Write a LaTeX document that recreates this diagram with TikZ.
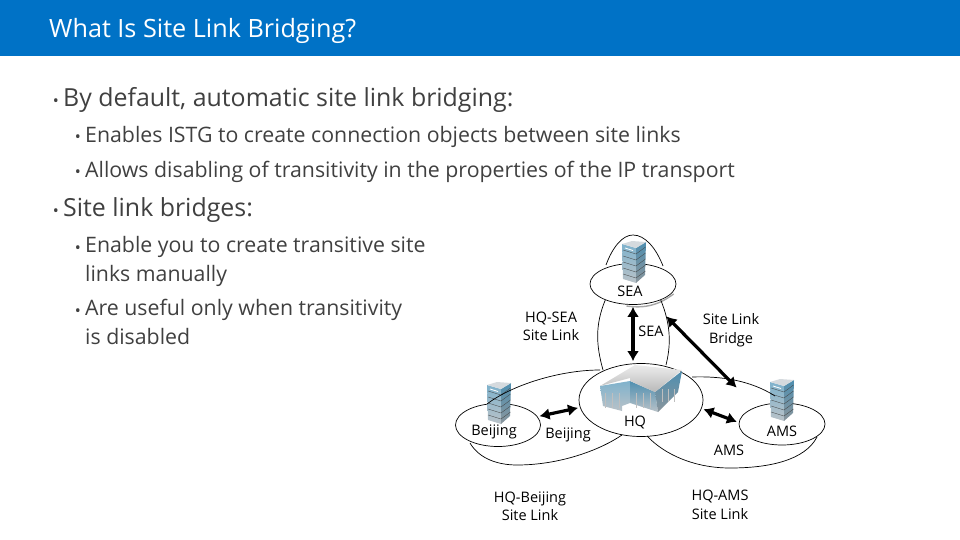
\documentclass[tikz,border=0pt]{standalone}
\usepackage{fontspec}
\setmainfont{Open Sans}
\usetikzlibrary{shapes.geometric, arrows.meta}

\definecolor{headblue}{HTML}{0072C6}
\definecolor{bodygray}{HTML}{404040}
\definecolor{glass}{HTML}{7FB2CC}
\definecolor{glassdark}{HTML}{4F8FB0}
\definecolor{concrete}{HTML}{B9C2C8}
\definecolor{concretedark}{HTML}{8A959C}

\tikzset{
  site/.style={draw, ellipse, line width=0.7pt, inner sep=0pt},
  sitelink/.style={line width=0.7pt},
  linkarrow/.style={{Latex[length=10pt,width=12pt]}-{Latex[length=10pt,width=12pt]}, line width=3.2pt, shorten >=2pt, shorten <=2pt},
  lbl/.style={font=\fontsize{14.5}{18.5}\selectfont, black, align=center, inner sep=0pt},
  main/.style={anchor=base west, inner sep=0pt, bodygray, font=\fontsize{24.9}{28}\selectfont},
  sub/.style={anchor=base west, inner sep=0pt, bodygray, align=left, font=\fontsize{21.3}{28.7}\selectfont},
  dot/.style={anchor=base east, inner sep=0pt, bodygray, font=\fontsize{16}{16}\selectfont},
  pics/tower/.style={code={
    \shade[top color=glass, bottom color=concrete] (0,2) -- (14,6) -- (14,41) -- (1,37) -- cycle;
    \shade[top color=glassdark, bottom color=concretedark] (14,6) -- (24,0) -- (23,33) -- (14,41) -- cycle;
    \fill[concrete!60] (0,2) -- (10,-1) -- (24,0) -- (14,6) -- cycle;
    \foreach \f in {12,18,...,36}
      {
      \draw[gray!50!black, line width=0.3pt] (1,\f-4) -- (14,\f) -- (23.5,\f-7);
      };
    \draw[white, line width=0.8pt] (3,6) -- (11,8.5);
  }}
}

\begin{document}
\begin{tikzpicture}[x=1pt, y=-1pt]
\useasboundingbox (0,0) rectangle (960,540);

% header
\fill[headblue] (0,0) rectangle (960,56);
\node[anchor=base west, inner sep=0pt, white, font=\fontsize{25.2}{30}\selectfont] (title) at (49,38) {What Is Site Link Bridging?};

% bullets
\node[dot] at (59,107) {•};
\node[main] (byDefault) at (63,107) {By default, automatic site link bridging:};
\node[dot] at (81,143) {•};
\node[sub] (enables) at (85,143) {Enables ISTG to create connection objects between site links};
\node[dot] at (81,178) {•};
\node[sub] (allows) at (85,178) {Allows disabling of transitivity in the properties of the IP transport};
\node[dot] at (59,216) {•};
\node[main] (bridges) at (63,216) {Site link bridges:};
\node[dot] at (81,253) {•};
\node[sub] (enable) at (85,281.5) {Enable you to create transitive site\\links manually};
\node[dot] at (81,316) {•};
\node[sub] (useful) at (85,344.5) {Are useful only when transitivity\\is disabled};

% sites
\node[site, minimum width=86pt, minimum height=41pt] (seasite) at (633,284) {};
\node[site, minimum width=124pt, minimum height=73pt] (hqsite) at (641,400) {};
\node[site, minimum width=85pt, minimum height=43pt] (bjsite) at (498,425) {};
\node[site, minimum width=86pt, minimum height=42pt] (amssite) at (782,424) {};

\draw[gray!70, line width=1.4pt] ([shift={(1,1.5)}]seasite.-110) to[bend right=22] ([shift={(1,1.5)}]seasite.-12);

% buildings
\pic at (622,242) {tower};
\pic at (487,383) {tower};
\pic at (770,380) {tower};

% HQ
\shade[top color=glass, bottom color=concrete] (600,386) -- (630,381) -- (630,403) -- (622,406) -- (622,411) -- (603,406) -- cycle;
\shade[top color=glassdark, bottom color=concrete] (630,381) -- (655,392) -- (658,412) -- (630,403) -- cycle;
\shade[top color=glassdark, bottom color=concretedark] (655,392) -- (682,371) -- (678,392) -- (658,412) -- cycle;
\shade[top color=gray!15, bottom color=gray!55] (600,386) -- (635,365) -- (682,370) -- (655,392) -- (630,381) -- (630,378) -- cycle;
\foreach \g in {605,612,619,636,643,650}
   {
	\draw[gray!50, line width=0.5pt] (\g,393) -- (\g,408);
   };
\foreach \g in {662,668,674}
   {
	\draw[gray!50, line width=0.5pt] (\g,389) -- (\g,402);
   };

% site links
\draw[sitelink] (606,265) .. controls (613,246) and (623,235) .. (633,235) .. controls (645,235) and (656,248) .. (663,266);
\draw[sitelink] (seasite.-150) .. controls (595,325) and (596,345) .. (603,370);
\draw[sitelink] (seasite.-30) .. controls (671,325) and (671,345) .. (666,365);
\draw[sitelink] (487,404) .. controls (512,385) and (560,370) .. (600,370);
\draw[sitelink] (470,443) .. controls (480,460) and (500,465) .. (517,465) .. controls (560,465) and (600,450) .. (622,435);
\draw[sitelink] (692,377) .. controls (720,376) and (750,380) .. (775,396);
\draw[sitelink] (647,436) .. controls (665,455) and (695,468) .. (730,468) .. controls (770,468) and (805,460) .. (817,437);

% site labels
\node[lbl] (sealbl) at (630,291) {SEA};
\node[lbl] (hqlbl) at (635,422) {HQ};
\node[lbl] (bjlbl) at (494,432) {Beijing};
\node[lbl] (amslbl) at (782,431) {AMS};

% inner labels
\node[lbl] (seainner) at (651,331) {SEA};
\node[lbl] (bjinner) at (568,435) {Beijing};
\node[lbl] (amsinner) at (729,450) {AMS};

% link labels
\node[lbl] (seatext) at (551,326.5) {HQ-SEA\\Site Link};
\node[lbl] (bridgetext) at (731,330) {Site Link\\Bridge};
\node[lbl] (bjtext) at (530,506) {HQ-Beijing\\Site Link};
\node[lbl] (amstext) at (720,505) {HQ-AMS\\Site Link};

% arrows
\coordinate (bridgeA) at (665,315);
\coordinate (bridgeB) at (738,389);
\draw[linkarrow] (seasite.south) -- (seasite.south |- hqsite.north);
\draw[linkarrow] (bridgeA) -- (bridgeB);
\draw[linkarrow] (bjsite.12) -- (hqsite.187);
\draw[linkarrow] (hqsite.-8) -- (amssite.178);
\end{tikzpicture}
\end{document}
